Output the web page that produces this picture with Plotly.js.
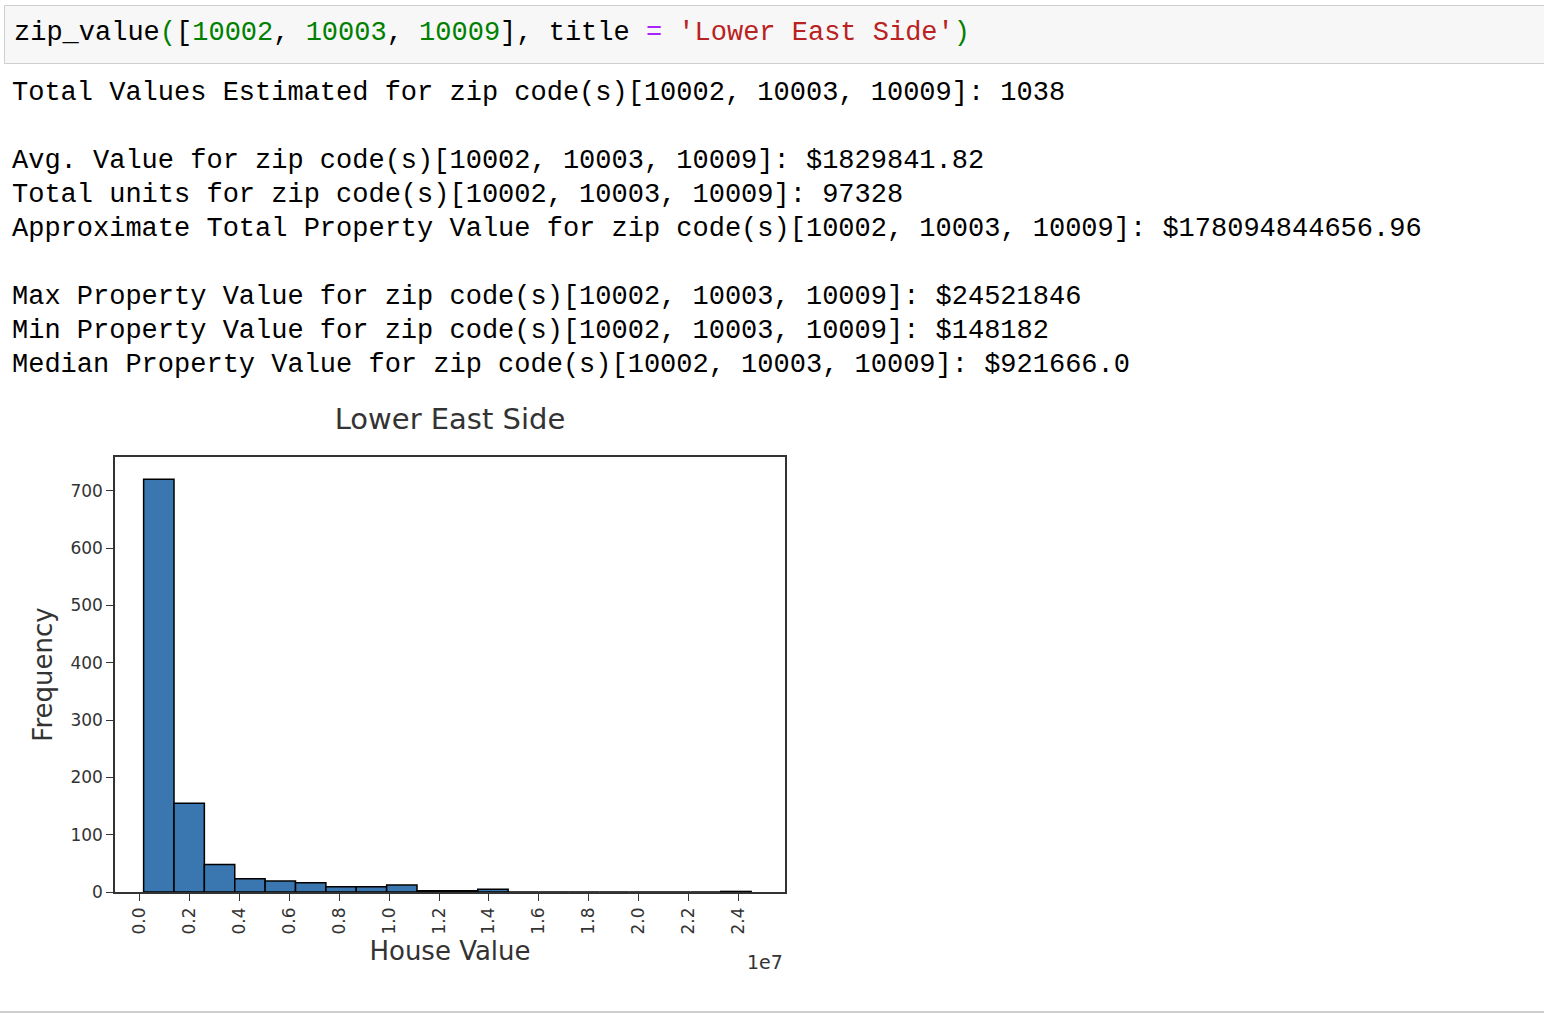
<!DOCTYPE html>
<html>
<head>
<meta charset="utf-8">
<script src="https://cdn.plot.ly/plotly-3.0.1.min.js"></script>
<style>
  body { margin: 0; background: #fff; width: 1544px; height: 1014px; overflow: hidden; position: relative; }
  .mono { font-family: "Liberation Mono", "DejaVu Sans Mono", monospace; font-size: 27px; color: #000; white-space: pre; position: absolute; left: 12px; }
  #cell { position: absolute; left: 4px; top: 5px; width: 1540px; height: 57px; background: #f7f7f7; border: 1px solid #cfcfcf; }
  #bottom { position: absolute; left: 0; top: 1011px; width: 1544px; height: 2px; background: #cfcfcf; }
  #myDiv { position: absolute; left: 0; top: 400px; }
</style>
</head>
<body>
<div id="cell"></div>
<div class="mono" style="top:18px;left:14px">zip_value<span style="color:#008000">(</span>[<span style="color:#008000">10002</span>, <span style="color:#008000">10003</span>, <span style="color:#008000">10009</span>], title <span style="color:#aa22ff">=</span> <span style="color:#ba2121">'Lower East Side'</span><span style="color:#008000">)</span></div>
<div class="mono" style="top:78px">Total Values Estimated for zip code(s)[10002, 10003, 10009]: 1038</div>
<div class="mono" style="top:146px">Avg. Value for zip code(s)[10002, 10003, 10009]: $1829841.82</div>
<div class="mono" style="top:180px">Total units for zip code(s)[10002, 10003, 10009]: 97328</div>
<div class="mono" style="top:214px">Approximate Total Property Value for zip code(s)[10002, 10003, 10009]: $178094844656.96</div>
<div class="mono" style="top:282px">Max Property Value for zip code(s)[10002, 10003, 10009]: $24521846</div>
<div class="mono" style="top:316px">Min Property Value for zip code(s)[10002, 10003, 10009]: $148182</div>
<div class="mono" style="top:350px">Median Property Value for zip code(s)[10002, 10003, 10009]: $921666.0</div>
<div id="myDiv"></div>
<div id="bottom"></div>
<script>
// histogram counts (20 bins between min and max)
const minValue = 148182;
const maxValue = 24521846;
const counts = [720, 155, 48, 23, 19, 16, 9, 9, 12, 2, 2, 5, 0, 0, 0, 0, 0, 0, 0, 1];
const tickValues = [0, 0.2e7, 0.4e7, 0.6e7, 0.8e7, 1.0e7, 1.2e7, 1.4e7, 1.6e7, 1.8e7, 2.0e7, 2.2e7, 2.4e7];
const tickLabels = ["0.0", "0.2", "0.4", "0.6", "0.8", "1.0", "1.2", "1.4", "1.6", "1.8", "2.0", "2.2", "2.4"];

const binWidth = (maxValue - minValue) / counts.length;
const centers = counts.map((c, i) => minValue + binWidth * (i + 0.5));

let trace = {
  type: "bar",
  x: centers,
  y: counts,
  width: binWidth,
  marker: { color: "#3a76af", line: { color: "#000", width: 1.5 } },
};

let layout = {
  width: 800,
  height: 600,
  margin: { l: 115, r: 15, t: 57, b: 108 },
  paper_bgcolor: "rgba(0,0,0,0)",
  plot_bgcolor: "#fff",
  showlegend: false,
  font: { family: "DejaVu Sans", color: "#333" },
  title: { text: "Lower East Side", x: 0.5625, y: 0.985, yanchor: "top", font: { size: 29, color: "#333" } },
  xaxis: {
    range: [-1.0e6, 25.88e6],
    tickvals: tickValues,
    ticktext: tickLabels,
    tickangle: -90,
    ticks: "outside", ticklen: 7, tickcolor: "#333",
    tickfont: { size: 17, color: "#333" },
    showgrid: false, zeroline: false,
    showline: true, mirror: true, linecolor: "#333", linewidth: 1.5,
    title: { text: "House Value", font: { size: 26, color: "#333" }, standoff: 8 },
  },
  yaxis: {
    range: [0, 759],
    tickvals: [0, 100, 200, 300, 400, 500, 600, 700],
    ticks: "outside", ticklen: 7, tickcolor: "#333",
    tickfont: { size: 17, color: "#333" },
    showgrid: false, zeroline: false,
    showline: true, mirror: true, linecolor: "#333", linewidth: 1.5,
    title: { text: "Frequency", font: { size: 26, color: "#333" }, standoff: 10 },
  },
  annotations: [
    { text: "1e7", xref: "paper", yref: "paper", x: 0.97, y: -0.13, xanchor: "center", yanchor: "top",
      showarrow: false, font: { size: 19, color: "#333" } },
  ],
};

Plotly.newPlot("myDiv", [trace], layout, { displayModeBar: false });
</script>
</body>
</html>
